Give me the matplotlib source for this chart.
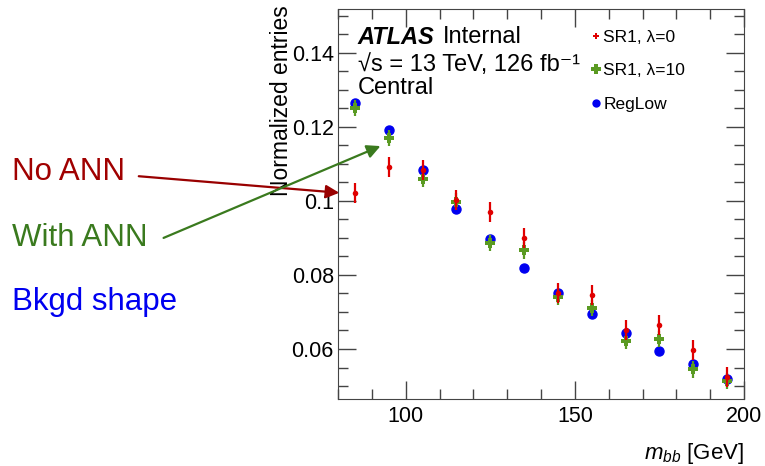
import matplotlib
matplotlib.use("Agg")
import matplotlib.pyplot as plt
from matplotlib.lines import Line2D
from matplotlib.ticker import MultipleLocator, FixedLocator

plt.rcParams['font.family'] = ['Liberation Sans', 'DejaVu Sans']
plt.rcParams['mathtext.fontset'] = 'custom'
plt.rcParams['mathtext.rm'] = 'Liberation Sans'
plt.rcParams['mathtext.it'] = 'Liberation Sans:italic'

mbb = [85, 95, 105, 115, 125, 135, 145, 155, 165, 175, 185, 195]
sr1_l0 = [0.1021, 0.1092, 0.1082, 0.1003, 0.0969, 0.0899, 0.0751, 0.0746, 0.0650, 0.0666, 0.0597, 0.0525]
sr1_l0_err = [0.0027] * 12
sr1_l10 = [0.1251, 0.1170, 0.1060, 0.0998, 0.0886, 0.0866, 0.0741, 0.0710, 0.0622, 0.0627, 0.0545, 0.0514]
sr1_l10_err = [0.0022] * 12
reglow = [0.1263, 0.1191, 0.1082, 0.0979, 0.0897, 0.0820, 0.0752, 0.0695, 0.0644, 0.0594, 0.0560, 0.0518]

labels = ['SR1, λ=0', 'SR1, λ=10', 'RegLow']
c_red = '#e00000'
c_green = '#5a9a22'
c_blue = '#0000f0'

W, H = 765, 466
fig = plt.figure(figsize=(7.65, 4.66), dpi=100)
ax = fig.add_axes([338/W, 1-399/H, (744-338)/W, (399-9)/H])

ax.errorbar(mbb, reglow, fmt='o', color=c_blue, ms=6.5, zorder=2)
ax.errorbar(mbb, sr1_l10, yerr=sr1_l10_err, fmt='P', color=c_green, ms=7, mew=0,
            elinewidth=1.6, capsize=0, zorder=3)
ax.errorbar(mbb, sr1_l0, yerr=sr1_l0_err, fmt='o', color=c_red, ms=4, mew=0,
            elinewidth=1.6, capsize=0, zorder=4)

ax.set_xlim(80, 200)
ax.set_ylim(0.0465, 0.1518)
ax.xaxis.set_major_locator(FixedLocator([100, 150, 200]))
ax.xaxis.set_minor_locator(MultipleLocator(10))
ax.yaxis.set_minor_locator(MultipleLocator(0.005))
ax.set_yticks([0.06, 0.08, 0.1, 0.12, 0.14])
ax.set_yticklabels(['0.06', '0.08', '0.1', '0.12', '0.14'])
ax.tick_params(which='both', direction='in', top=True, right=True, labelsize=15.5, color='#444444')
ax.tick_params(which='major', length=13, width=1)
ax.tick_params(which='minor', length=7, width=1)
ax.tick_params(axis='x', pad=5)
ax.tick_params(axis='y', pad=3)
for s in ax.spines.values():
    s.set_color('#444444')

fig.text(744/W, 1-453/H, r'$m_{bb}$ [GeV]', fontsize=16, ha='right', va='center')
fig.text(282/W, 1-5/H, 'Normalized entries', fontsize=16.5, rotation=90, ha='center', va='top')

ax.text(0.049, 0.927, 'ATLAS', transform=ax.transAxes, fontsize=17, fontweight='bold',
        style='italic', va='center', ha='left')
ax.text(0.2586, 0.927, 'Internal', transform=ax.transAxes, fontsize=17, va='center', ha='left')
ax.text(0.049, 0.857, '√s = 13 TeV, 126 fb⁻¹', transform=ax.transAxes,
        fontsize=17, va='center', ha='left')
ax.text(0.049, 0.797, 'Central', transform=ax.transAxes, fontsize=17, va='center', ha='left')

handles = [
    Line2D([], [], ls='none', marker='P', color=c_red, ms=5, mew=0),
    Line2D([], [], ls='none', marker='P', color=c_green, ms=6.5, mew=0),
    Line2D([], [], ls='none', marker='o', color=c_blue, ms=6, mew=0),
]
leg = ax.legend(handles, labels, loc='upper left',
                bbox_to_anchor=(0.594, 0.978), frameon=False, fontsize=12.5,
                handlelength=0.5, handletextpad=0.2, labelspacing=1.05, borderpad=0.2)

fig.text(12/W, 1-172/H, 'No ANN', color='#a00000', fontsize=22.5, va='center', ha='left')
fig.text(12/W, 1-238/H, 'With ANN', color='#3a7a1e', fontsize=22.5, va='center', ha='left')
fig.text(12/W, 1-302/H, 'Bkgd shape', color='#0000f0', fontsize=22.5, va='center', ha='left')

fig.add_artist(matplotlib.patches.FancyArrowPatch(
    (136/W, 1-176/H), (342/W, 1-193/H), transform=fig.transFigure,
    arrowstyle='-|>,head_length=8,head_width=4', color='#990000', lw=1.6, mutation_scale=1, zorder=10))
fig.add_artist(matplotlib.patches.FancyArrowPatch(
    (161/W, 1-239/H), (383/W, 1-145/H), transform=fig.transFigure,
    arrowstyle='-|>,head_length=8,head_width=4', color='#3a7a1e', lw=1.6, mutation_scale=1, zorder=10))

fig.savefig('out.png', dpi=100)
